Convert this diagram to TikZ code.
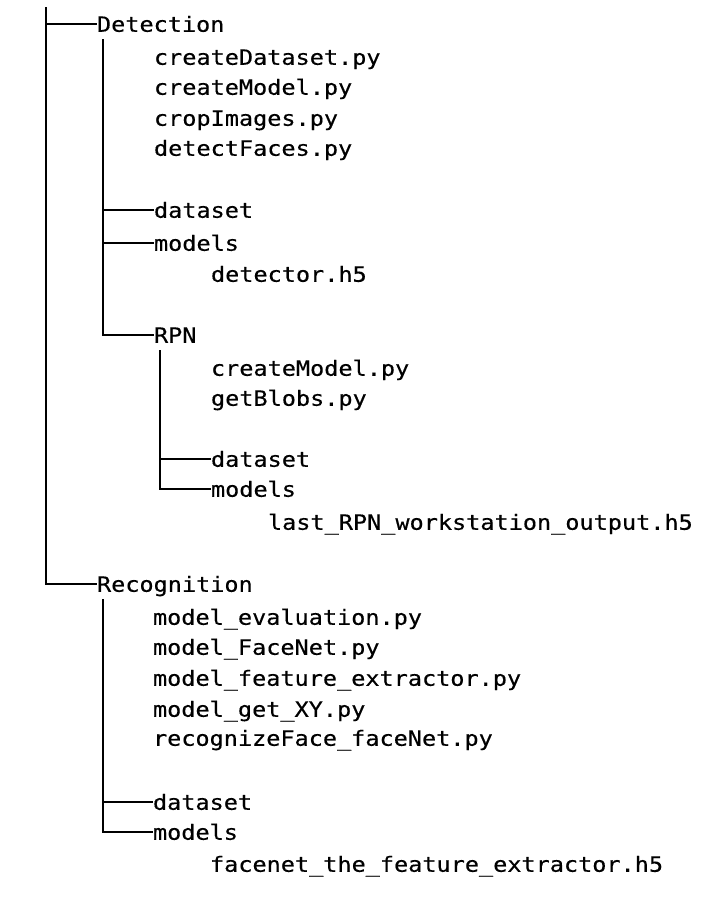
\documentclass[tikz,border=0pt]{standalone}
\usepackage{fontspec}
\setmonofont{DejaVu Sans Mono}[FakeStretch=1.12,FakeBold=0.4]
\begin{document}
\begin{tikzpicture}[x=1pt,y=-1pt,
  item/.style={anchor=west, inner sep=0pt, outer sep=0pt, text height=15.5pt, text depth=0pt,
    font=\ttfamily\fontsize{21}{25}\selectfont},
  branch/.style={line width=2.5pt, black}]
\useasboundingbox (0,0) rectangle (717,900);
% Detection
\node[item] (det) at (97,24) {Detection};
\node[item] (d1) at (154,57) {createDataset.py};
\node[item] (d2) at (154,87) {createModel.py};
\node[item] (d3) at (154,118) {cropImages.py};
\node[item] (d4) at (154,148) {detectFaces.py};
\node[item] (dds) at (154,210) {dataset};
\node[item] (dmod) at (154,243) {models};
\node[item] (dh5) at (211,274) {detector.h5};
% RPN
\node[item] (rpn) at (154,335) {RPN};
\node[item] (r1) at (211,368) {createModel.py};
\node[item] (r2) at (211,398) {getBlobs.py};
\node[item] (rds) at (211,459) {dataset};
\node[item] (rmod) at (211,489) {models};
\node[item] (rh5) at (268,522) {last\_RPN\_workstation\_output.h5};
% Recognition
\node[item] (rec) at (97,584) {Recognition};
\node[item] (c1) at (153,617) {model\_evaluation.py};
\node[item] (c2) at (153,647) {model\_FaceNet.py};
\node[item] (c3) at (153,678) {model\_feature\_extractor.py};
\node[item] (c4) at (153,709) {model\_get\_XY.py};
\node[item] (c5) at (153,738) {recognizeFace\_faceNet.py};
\node[item] (cds) at (153,802) {dataset};
\node[item] (cmod) at (153,832) {models};
\node[item] (ch5) at (210,864) {facenet\_the\_feature\_extractor.h5};
% connectors
\coordinate (roottop) at (46,7);
\draw[branch] (roottop) |- (rec.west);
\draw[branch] (roottop |- det.west) -- (det.west);
\coordinate (dettop) at (103,39);
\draw[branch] (dettop) |- (rpn.west);
\draw[branch] (dettop |- dds.west) -- (dds.west);
\draw[branch] (dettop |- dmod.west) -- (dmod.west);
\coordinate (rpntop) at (160,350);
\draw[branch] (rpntop) |- (rmod.west);
\draw[branch] (rpntop |- rds.west) -- (rds.west);
\coordinate (rectop) at (103,599);
\draw[branch] (rectop) |- (cmod.west);
\draw[branch] (rectop |- cds.west) -- (cds.west);
\end{tikzpicture}
\end{document}
